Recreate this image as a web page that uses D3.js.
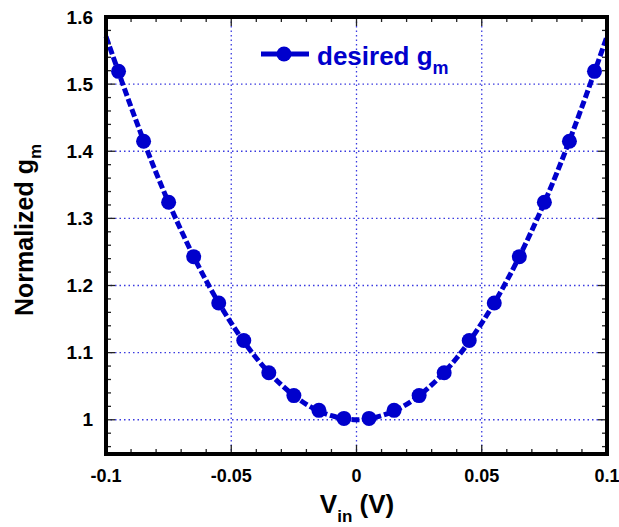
<!DOCTYPE html>
<html>
<head>
<meta charset="utf-8">
<script src="https://cdn.jsdelivr.net/npm/d3@7"></script>
<style>
  body { margin: 0; background: #fff; }
  text { font-family: "Liberation Sans", Arial, sans-serif; font-weight: bold; }
</style>
</head>
<body>
<div id="chart"></div>
<script>
// data
const markerX = [-0.095, -0.085, -0.075, -0.065, -0.055, -0.045, -0.035, -0.025, -0.015, -0.005,
                 0.005, 0.015, 0.025, 0.035, 0.045, 0.055, 0.065, 0.075, 0.085, 0.095]
const markerY = [1.519, 1.415, 1.324, 1.243, 1.174, 1.118, 1.070, 1.036, 1.014, 1.002,
                 1.002, 1.014, 1.036, 1.070, 1.118, 1.174, 1.243, 1.324, 1.415, 1.519]
const lineX = [-0.1, -0.09, -0.08, -0.07, -0.06, -0.05, -0.04, -0.03, -0.02, -0.01, 0,
               0.01, 0.02, 0.03, 0.04, 0.05, 0.06, 0.07, 0.08, 0.09, 0.1]
const lineY = [1.571, 1.466, 1.368, 1.282, 1.207, 1.144, 1.092, 1.052, 1.023, 1.006, 1.0,
               1.006, 1.023, 1.052, 1.092, 1.144, 1.207, 1.282, 1.368, 1.466, 1.571]
const xTicks = [-0.1, -0.05, 0, 0.05, 0.1]
const xTickLabels = ["-0.1", "-0.05", "0", "0.05", "0.1"]
const yTicks = [1, 1.1, 1.2, 1.3, 1.4, 1.5, 1.6]
const yTickLabels = ["1", "1.1", "1.2", "1.3", "1.4", "1.5", "1.6"]

const width = 619, height = 527
const margin = {top: 17, right: 12, bottom: 73, left: 106}
const blue = "#0000cc"

const svg = d3.select("#chart").append("svg")
    .attr("width", width)
    .attr("height", height)

const x = d3.scaleLinear().domain([-0.1, 0.1]).range([margin.left, width - margin.right])
const y = d3.scaleLinear().domain([0.949, 1.6]).range([height - margin.bottom, margin.top])
const [x0, x1] = x.range()
const [y1, y0] = [y.range()[0], y.range()[1]]

// grid
const grid = svg.append("g")
    .attr("stroke", "#3a3ae0")
    .attr("stroke-width", 1.3)
    .attr("stroke-dasharray", "1.5,3")
grid.selectAll(".gx").data(xTicks.slice(1, -1)).enter().append("line")
    .attr("x1", d => x(d)).attr("x2", d => x(d))
    .attr("y1", y0).attr("y2", y1)
grid.selectAll(".gy").data(yTicks.slice(0, -1)).enter().append("line")
    .attr("x1", x0).attr("x2", x1)
    .attr("y1", d => y(d)).attr("y2", d => y(d))

// ticks (inward, all four sides)
const ticks = svg.append("g").attr("stroke", "#222").attr("stroke-width", 1.3)
const minorX = d3.range(-10, 11).map(i => i / 100)
ticks.selectAll(".tb").data(minorX).enter().append("line")
    .attr("x1", d => x(d)).attr("x2", d => x(d))
    .attr("y1", y1).attr("y2", (d, i) => y1 - (i % 5 == 0 ? 9 : 5))
ticks.selectAll(".tt").data(minorX).enter().append("line")
    .attr("x1", d => x(d)).attr("x2", d => x(d))
    .attr("y1", y0).attr("y2", (d, i) => y0 + (i % 5 == 0 ? 9 : 5))
const minorY = d3.range(48, 81).map(i => i / 50).filter(d => d >= 0.95)
ticks.selectAll(".tl").data(minorY).enter().append("line")
    .attr("y1", d => y(d)).attr("y2", d => y(d))
    .attr("x1", x0).attr("x2", d => x0 + (Math.round(d * 50) % 5 == 0 ? 9 : 5))
ticks.selectAll(".tr").data(minorY).enter().append("line")
    .attr("y1", d => y(d)).attr("y2", d => y(d))
    .attr("x1", x1).attr("x2", d => x1 - (Math.round(d * 50) % 5 == 0 ? 9 : 5))

// line
const line = d3.line()
    .x((d, i) => x(lineX[i]))
    .y(d => y(d))
    .curve(d3.curveCatmullRom)
svg.append("path")
    .attr("d", line(lineY))
    .attr("fill", "none")
    .attr("stroke", blue)
    .attr("stroke-width", 5)
    .attr("stroke-dasharray", "8,3")

// markers
svg.selectAll(".dot").data(markerY).enter().append("circle")
    .attr("cx", (d, i) => x(markerX[i]))
    .attr("cy", d => y(d))
    .attr("r", 7.5)
    .attr("fill", blue)

// frame
svg.append("rect")
    .attr("x", x0).attr("y", y0)
    .attr("width", x1 - x0).attr("height", y1 - y0)
    .attr("fill", "none")
    .attr("stroke", "#000")
    .attr("stroke-width", 4)

// tick labels
svg.selectAll(".xl").data(xTicks).enter().append("text")
    .attr("x", d => x(d))
    .attr("y", 482)
    .attr("text-anchor", "middle")
    .style("font-size", "18px")
    .text((d, i) => xTickLabels[i])
svg.selectAll(".yl").data(yTicks).enter().append("text")
    .attr("x", 93)
    .attr("y", d => y(d) + 6.5)
    .attr("text-anchor", "end")
    .style("font-size", "19px")
    .text((d, i) => yTickLabels[i])

// axis titles
const xt = svg.append("text")
    .attr("x", 357).attr("y", 513)
    .attr("text-anchor", "middle")
    .style("font-size", "26px")
xt.append("tspan").text("V")
xt.append("tspan").attr("dy", 9).style("font-size", "17px").text("in")
xt.append("tspan").attr("dy", -9).text(" (V)")

const yt = svg.append("text")
    .attr("transform", "translate(33,230) rotate(-90)")
    .attr("text-anchor", "middle")
    .style("font-size", "25px")
yt.append("tspan").text("Normalized g")
yt.append("tspan").attr("dy", 8).style("font-size", "17px").text("m")

// legend
const legend = svg.append("g")
legend.append("line")
    .attr("x1", 261).attr("x2", 309).attr("y1", 54).attr("y2", 54)
    .attr("stroke", blue).attr("stroke-width", 5)
legend.append("circle").attr("cx", 284).attr("cy", 54).attr("r", 7.5).attr("fill", blue)
const lt = legend.append("text")
    .attr("x", 317).attr("y", 65)
    .attr("fill", blue)
    .style("font-size", "26px")
lt.append("tspan").text("desired g")
lt.append("tspan").attr("dy", 9).style("font-size", "18px").text("m")
</script>
</body>
</html>
